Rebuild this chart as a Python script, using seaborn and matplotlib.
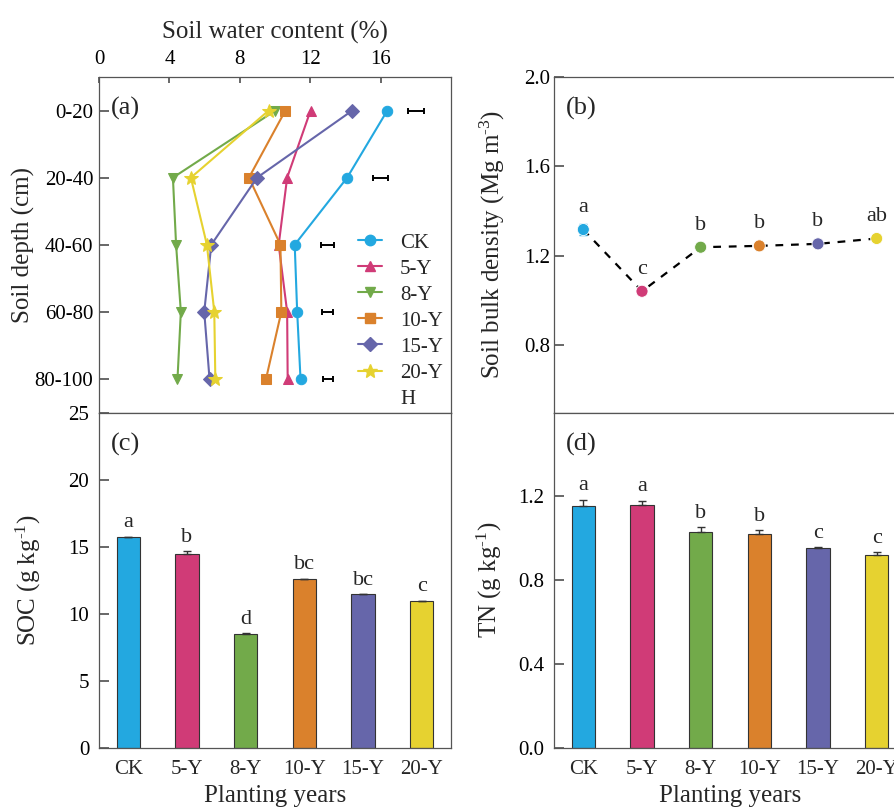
import numpy as np
import pandas as pd
import matplotlib
matplotlib.use('Agg')
import matplotlib.pyplot as plt
from matplotlib.lines import Line2D
import seaborn as sns

# Data
years = ['CK', '5-Y', '8-Y', '10-Y', '15-Y', '20-Y']
colors = ['#23A8E0', '#D03B77', '#72AA4A', '#DA812C', '#6666AA', '#E6D230']
markers = ['o', '^', 'v', 's', 'D', '*']

depths = ['0-20', '20-40', '40-60', '60-80', '80-100']
swc = {
    'CK':   [16.38, 14.10, 11.12, 11.26, 11.45],
    '5-Y':  [12.02, 10.69, 10.21, 10.69, 10.72],
    '8-Y':  [10.02, 4.20, 4.38, 4.65, 4.46],
    '10-Y': [10.59, 8.52, 10.31, 10.36, 9.49],
    '15-Y': [14.39, 8.98, 6.38, 5.98, 6.28],
    '20-Y': [9.64, 5.22, 6.13, 6.55, 6.61],
}
# LSD-type bars on the right of panel (a)
lsd_center = [18.0, 16.0, 13.0, 13.0, 13.0]
lsd_half = [0.46, 0.43, 0.37, 0.31, 0.28]

bd = [1.318, 1.042, 1.239, 1.245, 1.254, 1.278]
bd_err = [0.025, 0.010, 0.008, 0.006, 0.010, 0.008]
bd_letters = ['a', 'c', 'b', 'b', 'b', 'ab']

soc = [15.70, 14.45, 8.51, 12.57, 11.45, 10.93]
soc_err = [0.05, 0.20, 0.08, 0.06, 0.03, 0.05]
soc_letters = ['a', 'b', 'd', 'bc', 'bc', 'c']

tn = [1.153, 1.161, 1.028, 1.019, 0.954, 0.922]
tn_err = [0.032, 0.019, 0.027, 0.020, 0.004, 0.011]
tn_letters = ['a', 'a', 'b', 'b', 'c', 'c']

sns.set_theme(style='ticks')
plt.rcParams['font.family'] = ['Liberation Serif', 'DejaVu Serif']
plt.rcParams['mathtext.fontset'] = 'custom'
plt.rcParams['mathtext.rm'] = 'Liberation Serif'
plt.rcParams['mathtext.it'] = 'Liberation Serif:italic'
plt.rcParams['axes.edgecolor'] = '#555555'
plt.rcParams['axes.linewidth'] = 0.9

fig = plt.figure(figsize=(8.94, 8.07), dpi=100)
W, H = 894, 807


def box(x0, y0, x1, y1):
    return [x0 / W, 1 - y1 / H, (x1 - x0) / W, (y1 - y0) / H]


ax_a = fig.add_axes(box(99, 77, 451, 412.5))
ax_b = fig.add_axes(box(554, 77, 906, 412.5))
ax_c = fig.add_axes(box(99, 412.5, 451, 748))
ax_d = fig.add_axes(box(554, 412.5, 906, 748))

tick_fs = 15
label_fs = 18
pos = np.arange(len(years))
dpos = np.arange(len(depths))

# (a) soil water content profile
for yr, c, m in zip(years, colors, markers):
    sns.lineplot(x=swc[yr], y=dpos, orient='y', ax=ax_a, color=c, marker=m,
                 markersize=10 if m == '*' else 7.5, markeredgecolor=c,
                 linewidth=1.5, legend=False)
ax_a.errorbar(lsd_center, dpos, xerr=lsd_half, fmt='none', ecolor='black',
              elinewidth=1.4, capsize=2.5, capthick=1.4)
ax_a.set_xlim(0, 20)
ax_a.set_ylim(4.5, -0.5)
ax_a.xaxis.tick_top()
ax_a.xaxis.set_label_position('top')
ax_a.set_xticks([0, 4, 8, 12, 16])
ax_a.set_yticks(dpos)
ax_a.set_yticklabels(depths)
ax_a.tick_params(axis='x', direction='in', length=4, pad=6, labelsize=tick_fs,
                 bottom=False, top=True, colors='#555555', labelcolor='black')
ax_a.tick_params(axis='y', direction='in', length=7, pad=4, labelsize=tick_fs,
                 colors='#555555', labelcolor='black')
ax_a.set_xlabel('Soil water content (%)', fontsize=label_fs, labelpad=8)
ax_a.set_ylabel('Soil depth (cm)', fontsize=label_fs, labelpad=0)
handles = [Line2D([], [], color=c, marker=m, markersize=10 if m == '*' else 7.5,
                  linewidth=1.5, label=yr)
           for yr, c, m in zip(years, colors, markers)]
handles.append(Line2D([], [], linestyle='none', label='H'))
ax_a.legend(handles=handles, loc='upper left', bbox_to_anchor=(0.737, 0.535),
            frameon=False, fontsize=tick_fs, handlelength=1.15,
            handletextpad=0.85, labelspacing=0.31, borderpad=0, borderaxespad=0)

# (b) bulk density
sns.lineplot(x=pos, y=bd, ax=ax_b, color='black', linewidth=1.6,
             linestyle=(0, (3.5, 3.5)), zorder=1)
for i in range(len(years)):
    ax_b.errorbar(pos[i], bd[i], yerr=bd_err[i], fmt='none', ecolor=colors[i],
                  elinewidth=1.2, capsize=3, zorder=2)
sns.scatterplot(x=pos, y=bd, hue=years, palette=colors, s=75, ax=ax_b,
                edgecolor='white', linewidth=0.6, legend=False, zorder=3)
for i, t in enumerate(bd_letters):
    ax_b.annotate(t, (pos[i], bd[i]), xytext=(0, 9), textcoords='offset points',
                  ha='center', va='bottom', fontsize=16)
ax_b.set_xlim(-0.5, 5.5)
ax_b.set_ylim(0.5, 2.0)
ax_b.set_yticks([0.8, 1.2, 1.6, 2.0])
ax_b.set_xticks([])
ax_b.tick_params(axis='y', direction='in', length=7, pad=3, labelsize=tick_fs,
                 colors='#555555', labelcolor='black')
ax_b.set_ylabel(r'Soil bulk density (Mg m$^{\text{-}3}$)', fontsize=label_fs,
                labelpad=12)
ax_b.set_xlabel('')

# (c) SOC and (d) TN bars
for ax, vals, errs, letters in [(ax_c, soc, soc_err, soc_letters),
                                (ax_d, tn, tn_err, tn_letters)]:
    sns.barplot(x=years, y=vals, hue=years, palette=colors, legend=False,
                width=0.4, edgecolor='#333333', linewidth=0.8, saturation=1,
                ax=ax)
    ax.errorbar(pos, vals, yerr=[np.zeros(len(vals)), errs], fmt='none',
                ecolor='#333333', elinewidth=1.0, capsize=3, capthick=1.0)
    for i, t in enumerate(letters):
        ax.annotate(t, (pos[i], vals[i] + errs[i]), xytext=(0, 3),
                    textcoords='offset points', ha='center', va='bottom',
                    fontsize=16)
    ax.set_xlim(-0.5, 5.5)
    ax.tick_params(axis='x', length=0, pad=9, labelsize=tick_fs)
    ax.tick_params(axis='y', direction='in', length=7, pad=7, labelsize=tick_fs,
                   colors='#555555', labelcolor='black')
    ax.set_xlabel('Planting years', fontsize=label_fs, labelpad=4)

ax_c.set_ylim(0, 25)
ax_c.set_yticks([0, 5, 10, 15, 20, 25])
ax_c.set_ylabel(r'SOC (g kg$^{\text{-}1}$)', fontsize=label_fs, labelpad=18)
ax_d.set_ylim(0, 1.6)
ax_d.set_yticks([0.0, 0.4, 0.8, 1.2])
ax_d.set_yticklabels(['0.0', '0.4', '0.8', '1.2'])
ax_d.set_ylabel(r'TN (g kg$^{\text{-}1}$)', fontsize=label_fs, labelpad=10)

for ax, lab in zip([ax_a, ax_b, ax_c, ax_d], ['(a)', '(b)', '(c)', '(d)']):
    ax.text(0.035, 0.905, lab, transform=ax.transAxes, ha='left', va='center',
            fontsize=19)
    for s in ax.spines.values():
        s.set_visible(True)

fig.savefig('out.png', dpi=100)
